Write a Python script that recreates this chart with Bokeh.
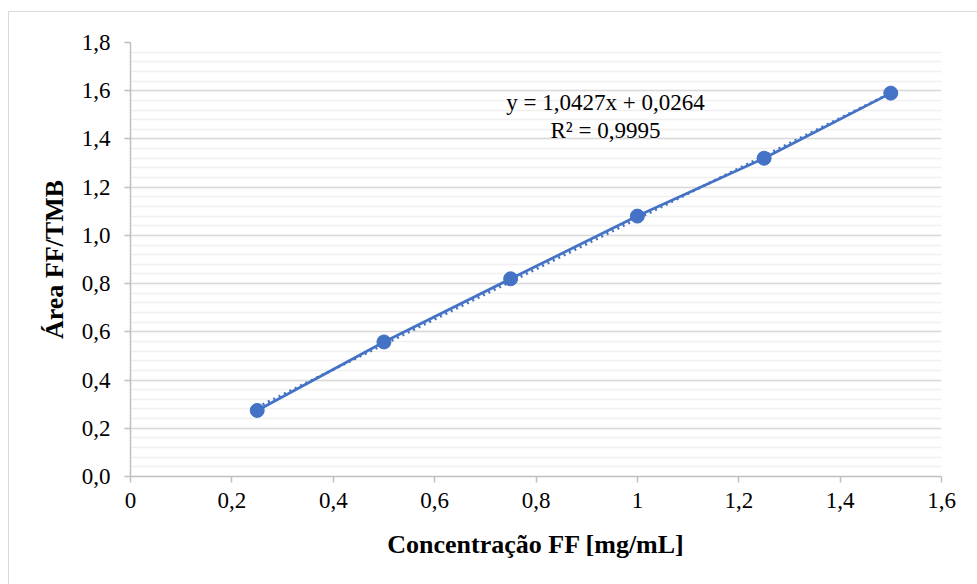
from bokeh.plotting import figure
from bokeh.layouts import column
from bokeh.models import Label, FixedTicker, Range1d
from bokeh.embed import file_html
from bokeh.resources import INLINE

# Calibration data: FF concentration vs. FF/TMB peak-area ratio
concentracao = [0.25, 0.50, 0.75, 1.00, 1.25, 1.50]
area_ratio = [0.274, 0.558, 0.820, 1.080, 1.320, 1.590]

# Linear fit reported on the chart
slope = 1.0427
intercept = 0.0264
r2 = 0.9995

x_ticks = [0, 0.2, 0.4, 0.6, 0.8, 1.0, 1.2, 1.4, 1.6]
x_tick_labels = ["0", "0,2", "0,4", "0,6", "0,8", "1", "1,2", "1,4", "1,6"]
y_ticks = [0, 0.2, 0.4, 0.6, 0.8, 1.0, 1.2, 1.4, 1.6, 1.8]
y_tick_labels = ["0,0", "0,2", "0,4", "0,6", "0,8", "1,0", "1,2", "1,4", "1,6", "1,8"]

BLUE = "#4472C4"
FONT = "Liberation Serif"

p = figure(width=968, height=572, output_backend="svg", toolbar_location=None,
           x_range=Range1d(0, 1.6), y_range=Range1d(0, 1.8),
           min_border_left=121, min_border_right=36,
           min_border_top=30, min_border_bottom=108)
p.background_fill_color = "white"
p.border_fill_color = "white"
p.outline_line_color = None

# axes
p.xaxis.ticker = FixedTicker(ticks=x_ticks)
p.xaxis.major_label_overrides = {t: l for t, l in zip(x_ticks, x_tick_labels)}
p.yaxis.ticker = FixedTicker(ticks=y_ticks,
                             minor_ticks=[i * 0.04 for i in range(46)])
p.yaxis.major_label_overrides = {t: l for t, l in zip(y_ticks, y_tick_labels)}

for ax in (p.xaxis[0], p.yaxis[0]):
    ax.axis_line_color = "#BFBFBF"
    ax.axis_line_width = 1.5
    ax.major_tick_line_color = "#BFBFBF"
    ax.major_tick_line_width = 1.5
    ax.major_tick_in = 0
    ax.major_tick_out = 6
    ax.minor_tick_line_color = None
    ax.major_label_text_font = FONT
    ax.major_label_text_font_size = "23px"
    ax.major_label_text_color = "#000000"
    ax.axis_label_text_font = FONT
    ax.axis_label_text_font_style = "bold"
    ax.axis_label_text_font_size = "26px"
    ax.axis_label_text_color = "#000000"

p.xaxis.axis_label = "Concentração FF [mg/mL]"
p.yaxis.axis_label = "Área FF/TMB"
p.xaxis.major_label_standoff = 10
p.xaxis.axis_label_standoff = 19
p.yaxis.major_label_standoff = 14
p.yaxis.axis_label_standoff = 10

# grid
p.xgrid.grid_line_color = None
p.ygrid.grid_line_color = "#D9D9D9"
p.ygrid.grid_line_width = 1.5
p.ygrid.minor_grid_line_color = "#F0F0F0"
p.ygrid.minor_grid_line_width = 1.5

# trendline from the fitted equation
fit_x = [concentracao[0], concentracao[-1]]
fit_y = [slope * x + intercept for x in fit_x]
p.line(fit_x, fit_y, line_color=BLUE, line_width=2.75, line_dash="dotted")

# measured series
p.line(concentracao, area_ratio, line_color=BLUE, line_width=2.75)
p.scatter(concentracao, area_ratio, size=14, fill_color=BLUE, line_color=BLUE)

# equation label
eq_text = "y = {}x + {}".format(f"{slope:.4f}".replace(".", ","),
                                 f"{intercept:.4f}".replace(".", ","))
r2_text = "R² = {}".format(f"{r2:.4f}".replace(".", ","))
for txt, yy in ((eq_text, 1.552), (r2_text, 1.436)):
    p.add_layout(Label(x=0.937, y=yy, text=txt, text_font=FONT,
                       text_font_size="23px", text_align="center",
                       text_baseline="middle", text_color="#000000"))

# chart-area border
layout = column(p, styles={"margin-left": "8px", "margin-top": "11px",
                           "border-left": "1.5px solid #D9D9D9",
                           "border-top": "1.5px solid #D9D9D9"})

open("out.html", "w").write(file_html(layout, INLINE))
